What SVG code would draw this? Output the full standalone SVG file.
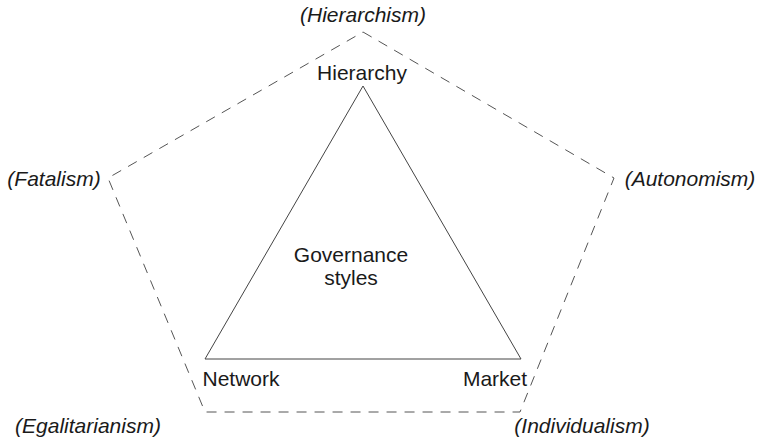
<svg xmlns="http://www.w3.org/2000/svg" width="758" height="443" viewBox="0 0 758 443">
<style>
text{font-family:"Liberation Sans",Arial,sans-serif;font-size:21px;fill:#1a1a1a;text-anchor:middle}
.it{font-style:italic}
.pent{fill:none;stroke:#555;stroke-width:1;stroke-dasharray:10 8}
.tri{fill:none;stroke:#444;stroke-width:1}
</style>
<rect width="758" height="443" fill="#fff"/>
<g id="connectors">
<polygon class="pent" points="363,32 614,178 520,412 205,412 108,178"/>
<polygon class="tri" points="363,86 521,359 205,359"/>
</g>
<g id="hierarchism"><text class="it" x="363" y="22">(Hierarchism)</text></g>
<g id="hierarchy"><text x="362" y="80">Hierarchy</text></g>
<g id="fatalism"><text class="it" x="54" y="186">(Fatalism)</text></g>
<g id="autonomism"><text class="it" x="690" y="186">(Autonomism)</text></g>
<g id="governance"><text x="351" y="262">Governance</text><text x="351" y="285">styles</text></g>
<g id="network"><text x="241" y="386">Network</text></g>
<g id="market"><text x="495" y="386">Market</text></g>
<g id="egalitarianism"><text class="it" x="88" y="433">(Egalitarianism)</text></g>
<g id="individualism"><text class="it" x="582" y="433">(Individualism)</text></g>
</svg>
